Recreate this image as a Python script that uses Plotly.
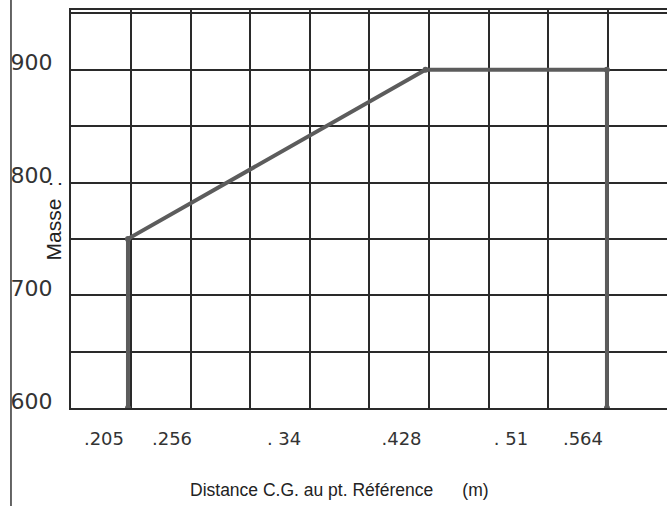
import plotly.graph_objects as go

# Data
distance_m = [0.205, 0.205, 0.428, 0.564, 0.564]
masse = [600, 750, 900, 900, 600]

x_tick_vals = [0.205, 0.256, 0.34, 0.428, 0.51, 0.564]
x_tick_text = [".205", ".256", ". 34", ".428", ". 51", ".564"]
y_tick_vals = [600, 700, 800, 900]
y_tick_text = ["600", "700", "800", "900"]

grid_col = "#2a2a2a"

fig = go.Figure()
fig.add_trace(go.Scatter(
    x=distance_m, y=masse, mode="lines+markers",
    line=dict(color="#5c5c5c", width=4),
    marker=dict(color="#5c5c5c", size=6),
    showlegend=False, hoverinfo="skip"
))

fig.update_layout(
    width=667, height=506,
    margin=dict(l=71, r=0, t=10, b=98),
    paper_bgcolor="white", plot_bgcolor="white",
    xaxis=dict(
        range=[0.1623, 0.6090], automargin=False,
        tickvals=x_tick_vals, ticktext=x_tick_text,
        tickfont=dict(family="DejaVu Sans", size=18, color="#333333"),
        showgrid=False, zeroline=False,
        showline=True, linecolor=grid_col, linewidth=2, mirror=True,
        ticks="", ticklabelstandoff=13, ticklabelshift=-24,
        minor=dict(tick0=0.20725, dtick=0.04467, showgrid=True,
                   gridcolor=grid_col, gridwidth=1.6),
    ),
    yaxis=dict(
        range=[600, 953], automargin=False,
        tickvals=y_tick_vals, ticktext=y_tick_text,
        tickfont=dict(family="DejaVu Sans", size=22, color="#333333"),
        showgrid=True, gridcolor=grid_col, gridwidth=1.6,
        zeroline=False,
        showline=True, linecolor=grid_col, linewidth=2, mirror=True,
        ticks="", ticklabelstandoff=12, ticklabelshift=-7,
        minor=dict(tick0=600, dtick=50, showgrid=True,
                   gridcolor=grid_col, gridwidth=1.6),
    ),
    annotations=[
        dict(text="Masse&nbsp;&nbsp;:", xref="paper", yref="paper",
             x=-0.052, y=0.47, textangle=-90, showarrow=False,
             font=dict(family="Liberation Sans", size=21, color="#222222")),
        dict(text="Distance C.G. au pt. Référence&nbsp;&nbsp;&nbsp;&nbsp;&nbsp;&nbsp;(m)",
             xref="paper", yref="paper",
             x=0.45, y=-0.236, showarrow=False,
             font=dict(family="Liberation Sans", size=17.5, color="#222222")),
    ],
    shapes=[
        dict(type="line", xref="paper", yref="paper",
             x0=-0.1007, x1=-0.1007, y0=-0.25, y1=1.03,
             line=dict(color="#333333", width=1.5)),
    ],
)

fig.write_html("out.html", config={"displayModeBar": False},
               post_script="document.body.style.margin='0';")
